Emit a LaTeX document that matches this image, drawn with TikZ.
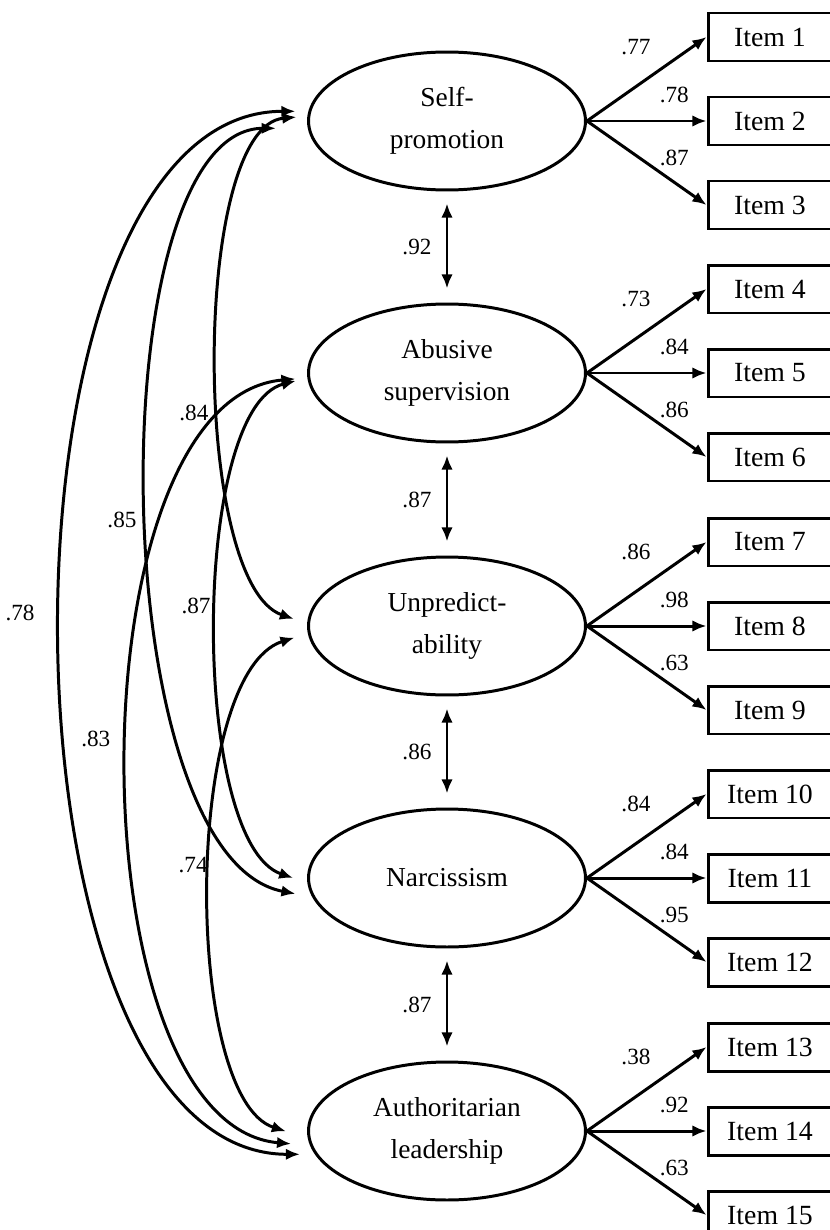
\documentclass[tikz,border=0pt]{standalone}
\usepackage{fontspec}
\setmainfont{Liberation Serif}
\usepackage{tikz}
\usetikzlibrary{shapes.geometric,arrows.meta}

\begin{document}
\begin{tikzpicture}[x=0.02cm, y=0.02cm, line width=1.7pt,
    lat/.style={shape=ellipse, draw, minimum width=5.54cm, minimum height=2.76cm, inner sep=0pt, align=center, font=\fontsize{15.6}{24}\selectfont},
    item/.style={shape=rectangle, draw, minimum width=2.48cm, minimum height=0.96cm, inner sep=0pt, font=\fontsize{15.8}{18}\selectfont},
    num/.style={inner sep=0pt, font=\fontsize{13.2}{15}\selectfont},
    load/.style={-{Latex[length=8pt,width=6.5pt]}},
    cov/.style={{Latex[length=8pt,width=6.5pt]}-{Latex[length=8pt,width=6.5pt]}}]
    \useasboundingbox (0,0) rectangle (830,-1230);

    \node[lat] (sp) at (447,-121) {Self-\\promotion};
    \node[lat] (ab) at (447,-373) {Abusive\\supervision};
    \node[lat] (un) at (447,-626) {Unpredict-\\ability};
    \node[lat] (na) at (447,-878) {Narcissism};
    \node[lat] (au) at (447,-1131) {Authoritarian\\leadership};

    \node[item] (i1) at (770,-37) {Item 1};
    \node[item] (i2) at (770,-121) {Item 2};
    \node[item] (i3) at (770,-205) {Item 3};
    \node[item] (i4) at (770,-289) {Item 4};
    \node[item] (i5) at (770,-373) {Item 5};
    \node[item] (i6) at (770,-457) {Item 6};
    \node[item] (i7) at (770,-542) {Item 7};
    \node[item] (i8) at (770,-626) {Item 8};
    \node[item] (i9) at (770,-710) {Item 9};
    \node[item] (i10) at (770,-794) {Item 10};
    \node[item] (i11) at (770,-878) {Item 11};
    \node[item] (i12) at (770,-962) {Item 12};
    \node[item] (i13) at (770,-1047) {Item 13};
    \node[item] (i14) at (770,-1131) {Item 14};
    \node[item] (i15) at (770,-1215) {Item 15};

    % loadings
    \draw[load] (sp.east) -- node[num, pos=.41, above=17pt] (l1) {.77} (i1.west);
    \draw[load] (sp.east) -- node[num, pos=.73, above=9.6pt] (l2) {.78} (i2.west);
    \draw[load] (sp.east) -- node[num, pos=.73, above=8.8pt] (l3) {.87} (i3.west);
    \draw[load] (ab.east) -- node[num, pos=.41, above=17pt] (l4) {.73} (i4.west);
    \draw[load] (ab.east) -- node[num, pos=.73, above=9.6pt] (l5) {.84} (i5.west);
    \draw[load] (ab.east) -- node[num, pos=.73, above=8.8pt] (l6) {.86} (i6.west);
    \draw[load] (un.east) -- node[num, pos=.41, above=17pt] (l7) {.86} (i7.west);
    \draw[load] (un.east) -- node[num, pos=.73, above=9.6pt] (l8) {.98} (i8.west);
    \draw[load] (un.east) -- node[num, pos=.73, above=8.8pt] (l9) {.63} (i9.west);
    \draw[load] (na.east) -- node[num, pos=.41, above=17pt] (l10) {.84} (i10.west);
    \draw[load] (na.east) -- node[num, pos=.73, above=9.6pt] (l11) {.84} (i11.west);
    \draw[load] (na.east) -- node[num, pos=.73, above=8.8pt] (l12) {.95} (i12.west);
    \draw[load] (au.east) -- node[num, pos=.41, above=17pt] (l13) {.38} (i13.west);
    \draw[load] (au.east) -- node[num, pos=.73, above=9.6pt] (l14) {.92} (i14.west);
    \draw[load] (au.east) -- node[num, pos=.73, above=8.8pt] (l15) {.63} (i15.west);

    % neighbouring factors
    \draw[cov, shorten <=0.24cm, shorten >=0.28cm] (sp) -- node[num, left=8pt] (r12) {.92} (ab);
    \draw[cov, shorten <=0.24cm, shorten >=0.28cm] (ab) -- node[num, left=8pt] (r23) {.87} (un);
    \draw[cov, shorten <=0.24cm, shorten >=0.28cm] (un) -- node[num, left=8pt] (r34) {.86} (na);
    \draw[cov, shorten <=0.24cm, shorten >=0.28cm] (na) -- node[num, left=8pt] (r45) {.87} (au);

    % factors further apart
    \draw[cov, shorten <=0.22cm, shorten >=0.28cm] (sp.178) .. controls +(-116,-10) and +(-116,40) .. node[num, pos=.575, left=7pt] (r13) {.84} (un.179);
    \draw[cov, shorten <=0.64cm, shorten >=0.34cm] (sp.183) .. controls +(-210,0) and +(-210,40) .. node[num, pos=.52, left=8.5pt] (r14) {.85} (na.188);
    \draw[cov, shorten <=0.26cm, shorten >=0.30cm] (sp.176) .. controls +(-330,0) and +(-330,0) .. node[num, pos=.487, left=16pt] (r15) {.78} (au.190);
    \draw[cov, shorten <=0.24cm, shorten >=0.30cm] (ab.182) .. controls +(-117,-30) and +(-117,40) .. node[num, pos=.47, left=4.5pt] (r24) {.87} (na.182);
    \draw[cov, shorten <=0.24cm, shorten >=0.38cm] (ab.182) .. controls +(-237,-20) and +(-237,20) .. node[num, pos=.48, left=11pt] (r25) {.83} (au.186);
    \draw[cov, shorten <=0.28cm, shorten >=0.46cm] (un.183) .. controls +(-125,-40) and +(-125,40) .. node[num, pos=.47, left=3pt] (r35) {.74} (au.183);
\end{tikzpicture}
\end{document}
